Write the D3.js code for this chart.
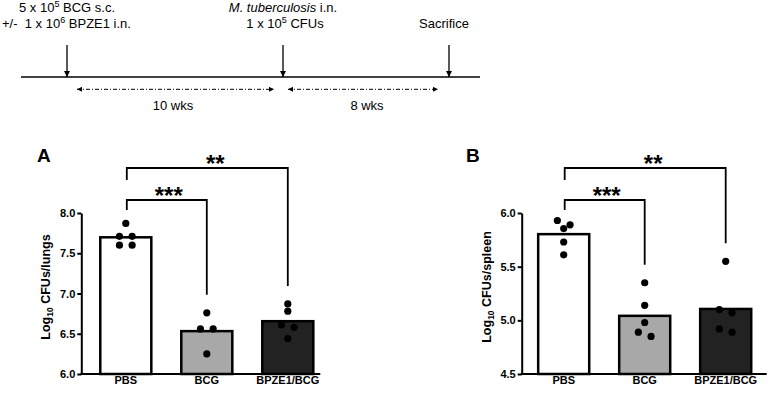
<!DOCTYPE html>
<html>
<head>
<meta charset="utf-8">
<script src="https://cdn.jsdelivr.net/npm/d3@7"></script>
<style>
    body { margin: 0; background: #fff; }
    svg text { font-family: "Liberation Sans", Arial, sans-serif; fill: #000; }
</style>
</head>
<body>
<div id="chart"></div>
<script>
// groups and read-off values (log10 CFU per mouse)
var groups = ["PBS", "BCG", "BPZE1/BCG"];
var lungsPBS = [7.87, 7.71, 7.71, 7.60, 7.60];
var lungsBCG = [6.76, 6.56, 6.56, 6.25];
var lungsBPZE1 = [6.87, 6.78, 6.61, 6.58, 6.44];
var spleenPBS = [5.93, 5.89, 5.855, 5.73, 5.61];
var spleenBCG = [5.35, 5.14, 4.98, 4.89, 4.85];
var spleenBPZE1 = [5.55, 5.10, 5.07, 4.92, 4.89];
var lungsTicks = [6.0, 6.5, 7.0, 7.5, 8.0];
var spleenTicks = [4.5, 5.0, 5.5, 6.0];
var brackets = [
    {from: "PBS", to: "BCG", label: "***"},
    {from: "PBS", to: "BPZE1/BCG", label: "**"}
];

// timeline of the protocol (weeks)
var eventWeeks = [0, 10, 18];
var spans = [{from: 0, to: 10, label: "10 wks"}, {from: 10, to: 18, label: "8 wks"}];

var barColors = ["#ffffff", "#a8a8a8", "#222222"];

var svg = d3.select("#chart").append("svg")
    .attr("width", 769)
    .attr("height", 393);

var defs = svg.append("defs");
defs.append("marker").attr("id", "head")
    .attr("viewBox", "0 0 10 10").attr("refX", 10).attr("refY", 5)
    .attr("markerWidth", 6).attr("markerHeight", 6).attr("markerUnits", "userSpaceOnUse")
    .attr("orient", "auto-start-reverse")
    .append("path").attr("d", "M0,0L10,5L0,10z").attr("fill", "#000");
defs.append("marker").attr("id", "small")
    .attr("viewBox", "0 0 10 10").attr("refX", 10).attr("refY", 5)
    .attr("markerWidth", 6).attr("markerHeight", 5).attr("markerUnits", "userSpaceOnUse")
    .attr("orient", "auto-start-reverse")
    .append("path").attr("d", "M0,0L10,5L0,10z").attr("fill", "#000");

// ---- timeline ----
var t = d3.scaleLinear().domain([0, 10, 18]).range([67, 283, 449]);
var lineY = 77;

svg.append("line")
    .attr("x1", 21).attr("x2", 480)
    .attr("y1", lineY).attr("y2", lineY)
    .attr("stroke", "#000").attr("stroke-width", 1.5);

svg.selectAll(".evt").data(eventWeeks).enter().append("line")
    .attr("x1", d => t(d)).attr("x2", d => t(d))
    .attr("y1", 45).attr("y2", lineY)
    .attr("stroke", "#000").attr("stroke-width", 1.3)
    .attr("marker-end", "url(#head)");

svg.selectAll(".span").data(spans).enter().append("line")
    .attr("x1", d => t(d.from) + (d.from == 0 ? 10 : 5))
    .attr("x2", d => t(d.to) - (d.to == 10 ? 9 : 11))
    .attr("y1", 89.3).attr("y2", 89.3)
    .attr("stroke", "#000").attr("stroke-width", 1)
    .attr("stroke-dasharray", "4,2,1,2")
    .attr("marker-start", "url(#small)")
    .attr("marker-end", "url(#small)");

svg.selectAll(".spanlab").data(spans).enter().append("text")
    .attr("x", d => (t(d.from) + t(d.to)) / 2 + (d.from == 0 ? -2 : 1))
    .attr("y", 110)
    .attr("text-anchor", "middle")
    .style("font-size", "13px")
    .text(d => d.label);

var l1 = svg.append("text").attr("x", t(0)).attr("y", 11.5)
    .attr("text-anchor", "middle").style("font-size", "13px");
l1.append("tspan").text("5 x 10");
l1.append("tspan").text("5").style("font-size", "9px").attr("dy", -5);
l1.append("tspan").text(" BCG s.c.").attr("dy", 5);

var l2 = svg.append("text").attr("x", 2).attr("y", 28.3)
    .style("font-size", "13px").style("white-space", "pre");
l2.append("tspan").text("+/-  1 x 10");
l2.append("tspan").text("6").style("font-size", "9px").attr("dy", -5);
l2.append("tspan").text(" BPZE1 i.n.").attr("dy", 5);

var m1 = svg.append("text").attr("x", t(10)).attr("y", 11.5)
    .attr("text-anchor", "middle").style("font-size", "13px");
m1.append("tspan").text("M. tuberculosis").style("font-style", "italic");
m1.append("tspan").text(" i.n.");

var m2 = svg.append("text").attr("x", t(10) + 2).attr("y", 28.3)
    .attr("text-anchor", "middle").style("font-size", "13px");
m2.append("tspan").text("1 x 10");
m2.append("tspan").text("5").style("font-size", "9px").attr("dy", -5);
m2.append("tspan").text(" CFUs").attr("dy", 5);

svg.append("text").attr("x", t(18) - 5).attr("y", 28.3)
    .attr("text-anchor", "middle").style("font-size", "13px")
    .text("Sacrifice");

// ---- bar panels ----
function panel(cfg) {
    var g = svg.append("g").attr("transform", "translate(" + cfg.left + ",0)");
    var y = d3.scaleLinear().domain(cfg.domain).range([374, 213]);
    var x = d3.scaleBand().domain(groups)
        .range([cfg.x0, cfg.x0 + 243])
        .paddingInner(0.37).paddingOuter(0.185);
    var bw = x.bandwidth();
    var cx = d => x(d) + bw / 2;

    var data = groups.map(function(gr, i) {
        return {group: gr, values: cfg.values[i], mean: d3.mean(cfg.values[i]), color: barColors[i]};
    });

    g.selectAll(".bar").data(data).enter().append("rect")
        .attr("x", d => x(d.group))
        .attr("y", d => y(d.mean))
        .attr("width", bw)
        .attr("height", d => y(cfg.domain[0]) - y(d.mean))
        .attr("fill", d => d.color)
        .attr("stroke", "#000")
        .attr("stroke-width", 2.5);

    // points, spread sideways when they sit in the same row
    var pts = [];
    data.forEach(function(d) {
        var ys = d.values.map(v => y(v)).sort((a, b) => a - b);
        var rows = [];
        ys.forEach(function(py) {
            var last = rows[rows.length - 1];
            if (last && Math.abs(py - last[0]) < 7) last.push(py);
            else rows.push([py]);
        });
        rows.forEach(function(r) {
            r.forEach(function(py, j) {
                pts.push({x: cx(d.group) + (j - (r.length - 1) / 2) * 12.7, y: py});
            });
        });
        d.top = ys[0];
    });

    g.selectAll(".dot").data(pts).enter().append("circle")
        .attr("cx", d => d.x).attr("cy", d => d.y)
        .attr("r", 3.6).attr("fill", "#000");

    var yAxis = d3.axisLeft(y).tickValues(cfg.ticks)
        .tickSize(4).tickSizeOuter(0).tickPadding(2)
        .tickFormat(d3.format(".1f"));
    var ax = g.append("g").call(yAxis);
    ax.select(".domain").attr("stroke-width", 2);
    ax.selectAll(".tick line").attr("stroke-width", 2);
    ax.selectAll(".tick text")
        .style("font-size", "11px").style("font-weight", "bold")
        .style("font-family", "\"Liberation Sans\", Arial, sans-serif")
        .attr("fill", "#000");

    g.append("line")
        .attr("x1", -1).attr("x2", cfg.width)
        .attr("y1", y(cfg.domain[0])).attr("y2", y(cfg.domain[0]))
        .attr("stroke", "#000").attr("stroke-width", 2);

    g.selectAll(".xlab").data(groups).enter().append("text")
        .attr("x", d => cx(d)).attr("y", 384)
        .attr("text-anchor", "middle")
        .style("font-size", "11px").style("font-weight", "bold")
        .text(d => d);

    // significance brackets
    brackets.forEach(function(b, i) {
        var by = 200 - 32 * i;
        var x1 = cx(b.from) + 1, x2 = cx(b.to);
        var target = data.find(d => d.group == b.to);
        g.append("path")
            .attr("d", "M" + x1 + "," + (by + 10 + 2 * i) + "V" + by + "H" + x2 + "V" + (target.top - 18))
            .attr("fill", "none").attr("stroke", "#000").attr("stroke-width", 1.8);
        g.append("text")
            .attr("x", (x1 + x2) / 2 + (i == 1 ? 8 : 2))
            .attr("y", by + 4)
            .attr("text-anchor", "middle")
            .style("font-size", "24px").style("font-weight", "bold")
            .text(b.label);
    });

    // y title with subscript
    var yt = g.append("text")
        .attr("transform", "translate(-31," + 287 + ") rotate(-90)")
        .attr("text-anchor", "middle")
        .style("font-size", "12.5px").style("font-weight", "bold");
    yt.append("tspan").text("Log");
    yt.append("tspan").text("10").style("font-size", "8.5px").attr("dy", 3);
    yt.append("tspan").text(" " + cfg.unit).attr("dy", -3);

    svg.append("text")
        .attr("x", cfg.letterX).attr("y", 162)
        .style("font-size", "19px").style("font-weight", "bold")
        .text(cfg.letter);
}

panel({left: 81.3, width: 239, x0: 4, domain: [6, 8], ticks: lungsTicks,
       values: [lungsPBS, lungsBCG, lungsBPZE1], unit: "CFUs/lungs", letter: "A", letterX: 37});
panel({left: 521.7, width: 245, x0: 1.5, domain: [4.5, 6], ticks: spleenTicks,
       values: [spleenPBS, spleenBCG, spleenBPZE1], unit: "CFUs/spleen", letter: "B", letterX: 466});
</script>
</body>
</html>
